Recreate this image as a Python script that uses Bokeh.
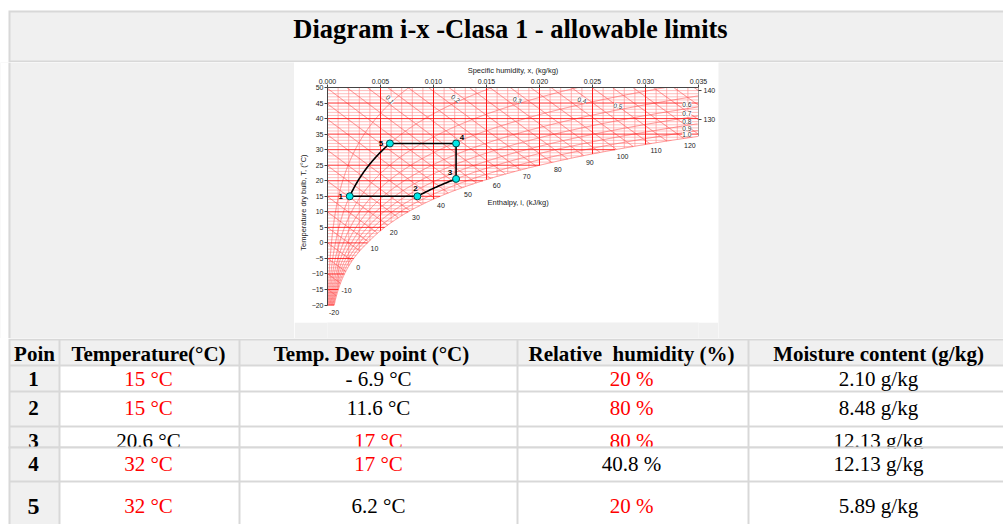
import numpy as np
from bokeh.plotting import figure
from bokeh.layouts import column, row
from bokeh.models import Range1d, LinearAxis, FixedTicker, NumeralTickFormatter, ColumnDataSource
from bokeh.core.properties import value
from bokeh.embed import file_html
from bokeh.resources import INLINE

# ------------------------------------------------------------------ data
title_text = "Diagram i-x -Clasa 1 - allowable limits"
point_ids = ["1", "2", "3", "4", "5"]
temp_c = [15, 15, 20.6, 32, 32]
dew_c = [-6.9, 11.6, 17, 17, 6.2]
rh_pct = [20, 80, 80, 40.8, 20]
moist_gkg = [2.10, 8.48, 12.13, 12.13, 5.89]
temp_is_limit = [True, True, False, True, True]
dew_is_limit = [False, False, True, True, False]
rh_is_limit = [True, True, True, False, True]
moist_is_limit = [False, False, False, False, False]
table_headers = ["Poin", "Temperature(°C)", "Temp. Dew point (°C)",
                 "Relative\u00a0 humidity (%)", "Moisture content (g/kg)"]
x_ticks = [0.000, 0.005, 0.010, 0.015, 0.020, 0.025, 0.030, 0.035]
t_ticks = [-20, -15, -10, -5, 0, 5, 10, 15, 20, 25, 30, 35, 40, 45, 50]
rh_levels = [0.1, 0.2, 0.3, 0.4, 0.5, 0.6, 0.7, 0.8, 0.9, 1.0]
enthalpy_sat_labels = [-20, -10, 0, 10, 20, 30, 40, 50, 60, 70, 80, 90, 100, 110, 120]
enthalpy_edge_ticks = [130, 140]
x_axis_title = "Specific humidity, x, (kg/kg)"
t_axis_title = "Temperature dry bulb, T, (°C)"
i_axis_title = "Enthalpy, i, (kJ/kg)"

# ------------------------------------------------------------------ style / layout
GRAY = "#f0f0f0"
BORDER = "#d8d8d8"
RED = "#ff0000"
SERIF = value("Liberation Serif")
SANS = value("Liberation Sans")
X_MAX, T_MIN, T_MAX = 0.035, -20.0, 50.0
P_ATM = 101.325

# ------------------------------------------------------------------ psychrometrics
def psat(T):
    T = np.asarray(T, dtype=float)
    water = 0.61094 * np.exp(17.625 * T / (T + 243.04))
    ice = 0.61115 * np.exp(22.452 * T / (272.55 + T))
    return np.where(T < 0, ice, water)

def x_phi(phi, T):
    pv = phi * psat(T)
    return 0.622 * pv / (P_ATM - pv)

def enthalpy(T, x):
    return 1.006 * T + x * (2501.0 + 1.86 * T)

T_GRID = np.linspace(-30, 60, 9001)
PS_GRID = psat(T_GRID)
XS_GRID = x_phi(1.0, T_GRID)
HS_GRID = enthalpy(T_GRID, XS_GRID)

def t_sat_of_x(x):
    return float(np.interp(x, XS_GRID, T_GRID))

# ------------------------------------------------------------------ chart
T_LOW = -24
chart = figure(width=424, height=260, x_range=Range1d(0, X_MAX), y_range=Range1d(T_LOW, T_MAX),
               x_axis_location="above", output_backend="svg", toolbar_location=None,
               min_border_left=33, min_border_right=20, min_border_top=25, min_border_bottom=5,
               background_fill_color="white", border_fill_color="white", outline_line_color=None)
chart.grid.visible = False

# isotherms
fine_x, fine_y, major_x, major_y = [], [], [], []
for T in range(int(T_MIN), int(T_MAX) + 1):
    xe = min(float(x_phi(1.0, T)), X_MAX)
    if T % 5 == 0:
        major_x.append([0, xe]); major_y.append([T, T])
    else:
        fine_x.append([0, xe]); fine_y.append([T, T])
# lines of constant x
vf_x, vf_y, vm_x, vm_y = [], [], [], []
for k in range(1, 35):
    xv = k * 0.001
    t0 = max(T_MIN, t_sat_of_x(xv))
    if k % 5 == 0:
        vm_x.append([xv, xv]); vm_y.append([t0, T_MAX])
    else:
        vf_x.append([xv, xv]); vf_y.append([t0, T_MAX])
# enthalpy lines
xs = np.linspace(0, X_MAX, 2801)
en_x, en_y = [], []
for i in range(-20, 145, 5):
    T = (i - 2501.0 * xs) / (1.006 + 1.86 * xs)
    ok = (T <= T_MAX) & (T >= T_MIN) & (xs <= x_phi(1.0, T))
    if ok.sum() >= 2:
        en_x.append(list(xs[ok])); en_y.append(list(T[ok]))
# relative humidity curves
Ts = np.linspace(T_MIN, T_MAX, 1401)
rh_x, rh_y = [], []
for phi in rh_levels:
    xx = x_phi(phi, Ts)
    ok = xx <= X_MAX
    rh_x.append(list(xx[ok])); rh_y.append(list(Ts[ok]))

chart.multi_line(fine_x, fine_y, line_color="#ff9090", line_width=0.6)
chart.multi_line(vf_x, vf_y, line_color="#ff9090", line_width=0.7)
chart.multi_line(en_x, en_y, line_color="#ff5050", line_width=0.7)
chart.multi_line(rh_x, rh_y, line_color="#ff6060", line_width=0.7)
chart.multi_line(major_x, major_y, line_color="#ff1a1a", line_width=0.9)
chart.multi_line(vm_x, vm_y, line_color="#ff1a1a", line_width=1.0)
chart.segment(x0=[X_MAX], y0=[t_sat_of_x(X_MAX)], x1=[X_MAX], y1=[T_MAX], line_color="#444444", line_width=1)

# RH labels
rh_lab_x = [0.0059, 0.0121, 0.0179, 0.0240, 0.0274, 0.0339, 0.0339, 0.0339, 0.0339, 0.0339]
rh_lab_ang = [-50, -35, -20, -15, -12, 0, 0, 0, 0, 0]
rh_lab_T = []
for phi, xl in zip(rh_levels, rh_lab_x):
    ps = xl * P_ATM / (0.622 + xl) / phi
    rh_lab_T.append(float(np.interp(ps, PS_GRID, T_GRID)))
chart.text(x=rh_lab_x, y=rh_lab_T, text=[f"{p:.1f}" for p in rh_levels],
           angle=[np.deg2rad(a) for a in rh_lab_ang], y_offset=-4,
           text_font=SANS, text_font_size=value("6.5px"), text_color="#333333",
           text_align="center", text_baseline="middle", background_fill_color="white")

# enthalpy labels along saturation
en_lab_x, en_lab_T = [], []
for i in enthalpy_sat_labels:
    Ti = float(np.interp(i, HS_GRID, T_GRID))
    if Ti < T_MIN:
        Ti = T_MIN
        xi = (i - 1.006 * Ti) / (2501.0 + 1.86 * Ti)
    else:
        xi = float(x_phi(1.0, Ti))
    en_lab_x.append(xi); en_lab_T.append(Ti)
chart.text(x=en_lab_x, y=en_lab_T, text=[str(i) for i in enthalpy_sat_labels],
           x_offset=6, y_offset=7, text_font=SANS, text_font_size=value("7px"),
           text_color="#222222", text_align="center", text_baseline="middle")
chart.text(x=[0.0151], y=[13.0], text=[i_axis_title], text_font=SANS, text_font_size=value("7.5px"),
           text_color="#222222", text_align="left", text_baseline="middle")

# process path (data driven)
px = [m / 1000.0 for m in moist_gkg]
path_x, path_y = [], []
n = len(point_ids)
for a in range(n):
    b = (a + 1) % n
    if rh_pct[a] == rh_pct[b] and temp_c[a] != temp_c[b]:
        tt = np.linspace(temp_c[a], temp_c[b], 40)
        xx = list(x_phi(rh_pct[a] / 100.0, tt))
        xx[0], xx[-1] = px[a], px[b]
        path_x += list(xx); path_y += list(tt)
    else:
        path_x += [px[a], px[b]]; path_y += [temp_c[a], temp_c[b]]
chart.line(path_x, path_y, line_color="black", line_width=1.6)
pts = ColumnDataSource(dict(x=px, y=temp_c, id=point_ids,
                            dx=[-9, -2, -6, 6, -9], dy=[0, -8, -6, -6, 0]))
chart.scatter("x", "y", source=pts, size=7, marker="circle", fill_color="#00e8e8",
              line_color="#004848", line_width=1)
chart.text("x", "y", text="id", source=pts, x_offset="dx", y_offset="dy", text_font=SANS,
           text_font_size=value("8px"), text_font_style="bold", text_color="black",
           text_align="center", text_baseline="middle")

# axes
for ax in [chart.xaxis[0], chart.yaxis[0]]:
    ax.major_tick_out = 3
    ax.major_tick_in = 0
    ax.minor_tick_line_color = None
    ax.axis_line_color = "#444444"
    ax.major_tick_line_color = "#444444"
    ax.major_label_text_font = "Liberation Sans"
    ax.major_label_text_font_size = "7px"
    ax.major_label_text_color = "#222222"
    ax.axis_label_text_font = "Liberation Sans"
    ax.axis_label_text_font_size = "7.5px"
    ax.axis_label_text_font_style = "normal"
    ax.axis_label_text_color = "#222222"
    ax.major_label_standoff = 1
    ax.axis_label_standoff = 1
chart.xaxis[0].ticker = FixedTicker(ticks=x_ticks)
chart.xaxis[0].formatter = NumeralTickFormatter(format="0.000")
chart.xaxis[0].axis_label = x_axis_title
chart.yaxis[0].ticker = FixedTicker(ticks=t_ticks)
chart.yaxis[0].bounds = (T_MIN, T_MAX)
chart.yaxis[0].axis_label = t_axis_title

chart.extra_y_ranges = {"enth": Range1d(enthalpy(T_LOW, X_MAX), enthalpy(T_MAX, X_MAX))}
rax = LinearAxis(y_range_name="enth", ticker=FixedTicker(ticks=enthalpy_edge_ticks),
                 axis_line_color=None, major_tick_out=3, major_tick_in=0,
                 major_tick_line_color="#444444", minor_tick_line_color=None,
                 major_label_text_font="Liberation Sans", major_label_text_font_size="7px",
                 major_label_text_color="#222222", major_label_standoff=2)
chart.add_layout(rax, "right")

# ------------------------------------------------------------------ page panels
def panel(w, h, x0, y0, bg):
    f = figure(width=w, height=h, x_range=Range1d(x0, x0 + w), y_range=Range1d(y0 + h, y0),
               output_backend="svg", toolbar_location=None, x_axis_location=None,
               y_axis_location=None, min_border=0, background_fill_color=bg,
               border_fill_color=bg, outline_line_color=None)
    f.grid.visible = False
    return f

top = panel(1003, 62, 0, 0, "white")
top.quad(left=[8], right=[1003], top=[10], bottom=[62], fill_color=BORDER, line_color=None)
top.quad(left=[10], right=[1003], top=[12], bottom=[60], fill_color=GRAY, line_color=None)
top.text(x=[510], y=[28], text=[title_text], text_font=SERIF, text_font_size=value("26.5px"),
         text_font_style="bold", text_color="black", text_align="center", text_baseline="middle")

left = panel(294, 276, 0, 62, GRAY)
left.quad(left=[0], right=[8], top=[62], bottom=[338], fill_color="white", line_color=None)
left.quad(left=[8], right=[10], top=[62], bottom=[338], fill_color=BORDER, line_color=None)
right = panel(285, 276, 718, 62, GRAY)
strip = panel(424, 16, 294, 322, GRAY)

# ------------------------------------------------------------------ table
table = panel(1003, 186, 0, 338, "white")
table.quad(left=[8], right=[1003], top=[338], bottom=[524], fill_color=BORDER, line_color=None)
cols = [(10, 58), (60, 238), (240, 516), (518, 747), (749, 1010)]
rows_y = [(340, 364), (366, 390), (392, 425), (427, 446), (448, 480), (482, 530)]
header_x = [34, 148, 371, 631, 878]
body_x = [33, 148, 378, 631, 878]
centers = [353, 378, 407, 440, 463, 505.5]

def fmt_temp(v):
    s = f"{abs(v):g}"
    return (f"- {s}" if v < 0 else s) + " °C"

temp_txt = [fmt_temp(v) for v in temp_c]
dew_txt = [fmt_temp(v) for v in dew_c]
rh_txt = [f"{v:g} %" for v in rh_pct]
moist_txt = [f"{v:.2f} g/kg" for v in moist_gkg]

def draw_cells(r_list):
    L, R, T, B, C = [], [], [], [], []
    for r in r_list:
        for c, (xl, xr) in enumerate(cols):
            L.append(xl); R.append(xr); T.append(rows_y[r][0]); B.append(rows_y[r][1])
            C.append(GRAY if (r == 0 or c == 0) else "white")
    table.quad(left=L, right=R, top=T, bottom=B, fill_color=C, line_color=None)

def draw_body(r_list):
    for r in r_list:
        i = r - 1
        table.text(x=[body_x[0]], y=[centers[r]], text=[point_ids[i]], text_font=SERIF,
                   text_font_size=value("24px" if i == 4 else "21px"), text_font_style="bold",
                   text_color="black", text_align="center", text_baseline="middle")
        vals = [temp_txt[i], dew_txt[i], rh_txt[i], moist_txt[i]]
        reds = [temp_is_limit[i], dew_is_limit[i], rh_is_limit[i], moist_is_limit[i]]
        table.text(x=body_x[1:], y=[centers[r]] * 4, text=vals, text_font=SERIF,
                   text_font_size=value("21px"), text_color=[RED if f else "black" for f in reds],
                   text_align="center", text_baseline="middle")

draw_cells([0, 1, 2, 3])
table.text(x=header_x, y=[centers[0]] * 5, text=table_headers, text_font=SERIF,
           text_font_size=value("21px"), text_font_style="bold", text_color="black",
           text_align="center", text_baseline="middle")
draw_body([1, 2, 3])
table.quad(left=[8], right=[1003], top=[446], bottom=[448], fill_color=BORDER, line_color=None)
draw_cells([4, 5])
draw_body([4, 5])

page = column(top, row(left, column(chart, strip), right), table)
open("out.html", "w").write(file_html(page, INLINE))
